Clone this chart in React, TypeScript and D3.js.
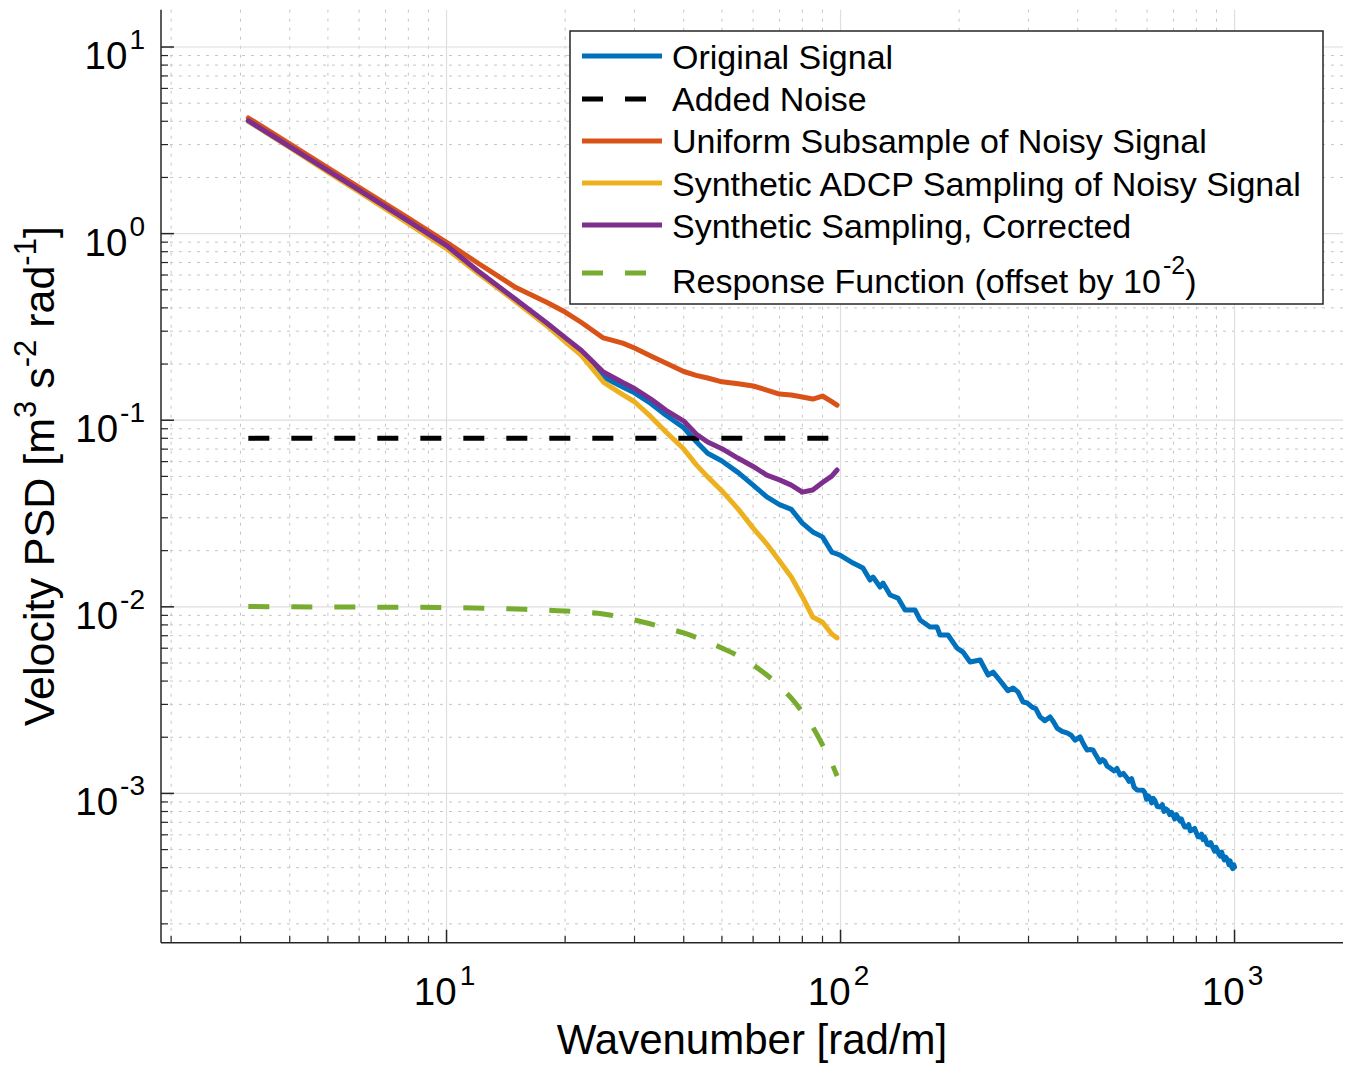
import React from "react";
import * as d3 from "d3";

// ---------- data ----------
const kShort = [3.14, 4, 5, 6, 8, 10, 12, 15, 18, 20, 22, 25, 28, 30, 33, 36, 40, 43, 46, 50, 55, 60, 65, 70, 75, 80, 85, 90, 95, 98];

const originalLow = [4.012, 2.911, 2.165, 1.692, 1.154, 0.853, 0.623, 0.435, 0.324, 0.2707, 0.2306, 0.1704, 0.1506, 0.1402, 0.123, 0.1066, 0.0911, 0.0768, 0.0665, 0.0605, 0.0524, 0.0449, 0.0388, 0.0353, 0.0333, 0.0281, 0.0252, 0.0237, 0.01966, 0.01919];

const kHigh = [99.7, 107.6, 114, 118.8, 120.9, 126, 128.2, 133.6, 139.9, 145.8, 154.6, 159.2, 168.7, 175.8, 178.9, 187.4, 197.6, 204.6, 213.2, 226.1, 236.9, 243.9, 257, 274.1, 290.6, 306.3, 320.9, 340.2, 354.4, 375.8, 393.8, 405.5, 422.3, 437.4, 455.6, 468, 483.1, 512.2, 522, 533.6, 565.6, 585, 598, 610.3, 628, 647.1, 670, 685, 698.2, 720, 740, 757.7, 785, 800, 817.3, 845, 862, 881.9, 905, 920, 935, 960, 980, 1000];

const originalHigh = [0.01895, 0.01717, 0.01614, 0.01392, 0.01444, 0.01277, 0.01341, 0.01157, 0.01114, 0.00961, 0.00961, 0.0085, 0.00779, 0.00779, 0.00706, 0.00706, 0.00601, 0.00572, 0.00506, 0.00519, 0.00431, 0.00447, 0.0039, 0.00367, 0.00309, 0.0029, 0.00257, 0.00257, 0.00224, 0.00211, 0.00193, 0.00201, 0.00171, 0.00171, 0.00147, 0.00149, 0.00137, 0.001255, 0.00128, 0.001209, 0.001043, 0.00104, 0.00093, 0.000945, 0.000915, 0.000846, 0.000825, 0.00077, 0.000766, 0.000735, 0.00069, 0.00066, 0.00064, 0.000615, 0.000584, 0.000565, 0.00053, 0.00051, 0.000495, 0.000462, 0.000456, 0.00044, 0.00041, 0.000403];

// extra wiggles of the original spectrum at high wavenumber
const kHighFine = [266, 282, 298, 313, 330, 347, 365, 385, 413, 430, 445, 462, 475, 495, 503, 540, 548, 556, 592, 604, 616, 622, 637, 656, 662, 677, 692, 705, 712, 728, 733, 748, 765, 772, 792, 808, 825, 832, 838, 852, 870, 890, 897, 912, 928, 942, 950, 968, 975, 990, 995];
const originalHighFine = [0.00355, 0.0035, 0.00305, 0.00285, 0.00245, 0.00242, 0.00215, 0.00205, 0.00185, 0.00172, 0.0016, 0.00152, 0.0014, 0.00132, 0.00136, 0.00116, 0.0012, 0.00108, 0.00101, 0.00097, 0.00089, 0.00094, 0.00085, 0.00087, 0.0008, 0.00081, 0.00079, 0.00073, 0.00077, 0.00071, 0.00073, 0.00066, 0.00068, 0.00063, 0.00065, 0.000585, 0.000605, 0.000565, 0.000585, 0.000535, 0.000545, 0.00049, 0.000515, 0.000475, 0.000485, 0.00044, 0.000455, 0.000415, 0.000435, 0.000395, 0.000415];

const kNoise = [3.14, 98];
const noiseLevel = [0.08, 0.08];

const uniformPSD = [4.165, 3.028, 2.252, 1.771, 1.209, 0.897, 0.696, 0.514, 0.427, 0.38, 0.334, 0.276, 0.259, 0.2437, 0.2208, 0.2025, 0.1824, 0.174, 0.1684, 0.1606, 0.1569, 0.1525, 0.1451, 0.1381, 0.1365, 0.1331, 0.1299, 0.1348, 0.1259, 0.1206];

const adcpPSD = [4.012, 2.894, 2.138, 1.671, 1.13, 0.831, 0.615, 0.432, 0.32, 0.2641, 0.2227, 0.1602, 0.1373, 0.1256, 0.1045, 0.0868, 0.0701, 0.0578, 0.0497, 0.0418, 0.0334, 0.0264, 0.0217, 0.0176, 0.01444, 0.01133, 0.00882, 0.00826, 0.00715, 0.00681];

const correctedPSD = [4.027, 2.926, 2.176, 1.708, 1.166, 0.863, 0.632, 0.443, 0.331, 0.2772, 0.2366, 0.1813, 0.1592, 0.1479, 0.1299, 0.1134, 0.099, 0.0843, 0.0764, 0.0704, 0.0625, 0.0565, 0.0508, 0.0479, 0.0449, 0.0412, 0.0423, 0.0464, 0.0502, 0.0541];

const kResp = [3.14, 5, 10, 15, 20, 25, 30, 36, 40, 46, 50, 55, 60, 65, 70, 75, 80, 85, 90, 95, 98];
const responseOffset = [0.01004, 0.00998, 0.00991, 0.00973, 0.0095, 0.00915, 0.0085, 0.0077, 0.00724, 0.00648, 0.00601, 0.00545, 0.00488, 0.00431, 0.00376, 0.00324, 0.00273, 0.00227, 0.00182, 0.00145, 0.00124];

const xMajorTicks = [10, 100, 1000];
const xTickExp = ["1", "2", "3"];
const yMajorTicks = [10, 1, 0.1, 0.01, 0.001];
const yTickExp = ["1", "0", "-1", "-2", "-3"];

const legendNames = [
  "Original Signal",
  "Added Noise",
  "Uniform Subsample of Noisy Signal",
  "Synthetic ADCP Sampling of Noisy Signal",
  "Synthetic Sampling, Corrected",
  "Response Function (offset by 10",
];

// ---------- layout / style ----------
const W = 1356;
const H = 1066;
const L = 161, R = 1343, T = 9.7, B = 942.7;
const FONT = "'Liberation Sans', Arial, Helvetica, sans-serif";
const AXC = "#262626";
const C = {
  blue: "#0072BD",
  orange: "#D95319",
  yellow: "#EDB120",
  purple: "#7E2F8E",
  green: "#77AC30",
  black: "#000000",
};
const LW = 5;
const DASH = "21 22";

export default function App() {
  const x = d3.scaleLog().domain([0.6 * Math.PI, 600 * Math.PI]).range([L, R]);
  const y = d3.scaleLog().domain([Math.pow(10, -3.8), Math.pow(10, 1.2)]).range([B, T]);

  const [x0, x1] = x.domain();
  const [y0, y1] = y.domain();
  const minorX: number[] = [];
  const minorY: number[] = [];
  for (let e = -5; e <= 4; e++) {
    for (let m = 2; m <= 9; m++) {
      const v = m * Math.pow(10, e);
      if (v > x0 && v < x1) minorX.push(v);
      if (v > y0 && v < y1) minorY.push(v);
    }
  }

  const line = d3
    .line<[number, number]>()
    .x((d) => x(d[0]))
    .y((d) => y(d[1]));
  const smooth = d3
    .line<[number, number]>()
    .x((d) => x(d[0]))
    .y((d) => y(d[1]))
    .curve(d3.curveMonotoneX);

  const zip = (ks: number[], vs: number[]) => ks.map((k, i) => [k, vs[i]] as [number, number]);

  const original = zip(
    kShort.concat(kHigh, kHighFine),
    originalLow.concat(originalHigh, originalHighFine)
  ).sort((a, b) => a[0] - b[0]);
  const noise = zip(kNoise, noiseLevel);
  const uniform = zip(kShort, uniformPSD);
  const adcp = zip(kShort, adcpPSD);
  const corrected = zip(kShort, correctedPSD);
  const resp = zip(kResp, responseOffset);

  const series = [
    { d: line(original), c: C.blue, dash: undefined as string | undefined },
    { d: line(noise), c: C.black, dash: DASH },
    { d: line(uniform), c: C.orange, dash: undefined },
    { d: line(adcp), c: C.yellow, dash: undefined },
    { d: line(corrected), c: C.purple, dash: undefined },
    { d: smooth(resp), c: C.green, dash: DASH },
  ];

  const legendColors = [C.blue, C.black, C.orange, C.yellow, C.purple, C.green];
  const legendDash = [false, true, false, false, false, true];
  const legendLineY = [56, 99, 141, 183, 225, 273];
  const legendTextY = [69, 111, 153, 196, 238, 293];

  return (
    <svg
      width={W}
      height={H}
      viewBox={`0 0 ${W} ${H}`}
      style={{ position: "absolute", left: 0, top: 0, background: "#fff" }}
      fontFamily={FONT}
    >
      <rect x={0} y={0} width={W} height={H} fill="#fff" />
      {/* minor grid */}
      <g stroke="#c6c6c6" strokeWidth={1} strokeDasharray="3 6">
        {minorX.map((v, i) => (
          <line key={"mx" + i} x1={x(v)} x2={x(v)} y1={T} y2={B} />
        ))}
        {minorY.map((v, i) => (
          <line key={"my" + i} x1={L} x2={R} y1={y(v)} y2={y(v)} />
        ))}
      </g>
      {/* major grid */}
      <g stroke="#dedede" strokeWidth={1.2}>
        {xMajorTicks.map((v, i) => (
          <line key={"gx" + i} x1={x(v)} x2={x(v)} y1={T} y2={B} />
        ))}
        {yMajorTicks.map((v, i) => (
          <line key={"gy" + i} x1={L} x2={R} y1={y(v)} y2={y(v)} />
        ))}
      </g>

      {/* data */}
      <g fill="none" strokeWidth={LW} strokeLinejoin="round">
        {series.map((s, i) => (
          <path key={i} d={s.d || ""} stroke={s.c} strokeDasharray={s.dash} strokeLinecap={s.dash ? "butt" : "round"} />
        ))}
      </g>

      {/* axes */}
      <g stroke={AXC} strokeWidth={1.5}>
        <line x1={L} x2={L} y1={T} y2={B} />
        <line x1={L} x2={R} y1={B} y2={B} />
        {yMajorTicks.map((v, i) => (
          <line key={"ty" + i} x1={L} x2={L + 13} y1={y(v)} y2={y(v)} />
        ))}
        {minorY.map((v, i) => (
          <line key={"tmy" + i} x1={L} x2={L + 7} y1={y(v)} y2={y(v)} strokeWidth={1.2} />
        ))}
        {xMajorTicks.map((v, i) => (
          <line key={"tx" + i} x1={x(v)} x2={x(v)} y1={B} y2={B - 13} />
        ))}
        {minorX.map((v, i) => (
          <line key={"tmx" + i} x1={x(v)} x2={x(v)} y1={B} y2={B - 7} strokeWidth={1.2} />
        ))}
      </g>

      {/* tick labels */}
      <g fill="#000">
        {yMajorTicks.map((v, i) => (
          <text key={"ly" + i} x={145} y={y(v) + 22} textAnchor="end" fontSize={38.5}>
            <tspan>10</tspan>
            <tspan dx={2} dy={-20} fontSize={28}>
              {yTickExp[i]}
            </tspan>
          </text>
        ))}
        {xMajorTicks.map((v, i) => (
          <text key={"lx" + i} x={x(v) - 2} y={1005} textAnchor="middle" fontSize={38.5}>
            <tspan>10</tspan>
            <tspan dx={3} dy={-20} fontSize={28}>
              {xTickExp[i]}
            </tspan>
          </text>
        ))}
      </g>

      {/* axis labels */}
      <text x={(L + R) / 2} y={1054} textAnchor="middle" fontSize={42} fill="#000">
        Wavenumber [rad/m]
      </text>
      <text transform={`translate(54, ${(T + B) / 2}) rotate(-90)`} textAnchor="middle" fontSize={43} fill="#000">
        <tspan>Velocity PSD [m</tspan>
        <tspan dy={-18} fontSize={31}>3</tspan>
        <tspan dy={18}> s</tspan>
        <tspan dy={-18} fontSize={31}>-2</tspan>
        <tspan dy={18}> rad</tspan>
        <tspan dy={-18} fontSize={31}>-1</tspan>
        <tspan dy={18}>]</tspan>
      </text>

      {/* legend */}
      <g>
        <rect x={570} y={31} width={753} height={273} fill="#fff" stroke="#262626" strokeWidth={1.5} />
        {legendNames.map((name, i) => (
          <g key={"lg" + i}>
            <line
              x1={582}
              x2={662}
              y1={legendLineY[i]}
              y2={legendLineY[i]}
              stroke={legendColors[i]}
              strokeWidth={LW}
              strokeDasharray={legendDash[i] ? DASH : undefined}
            />
            <text x={672} y={legendTextY[i]} fontSize={34} fill="#000">
              <tspan>{name}</tspan>
              {i === 5 ? (
                <>
                  <tspan dx={2} dy={-19} fontSize={25}>-2</tspan>
                  <tspan dy={19}>)</tspan>
                </>
              ) : null}
            </text>
          </g>
        ))}
      </g>
    </svg>
  );
}
